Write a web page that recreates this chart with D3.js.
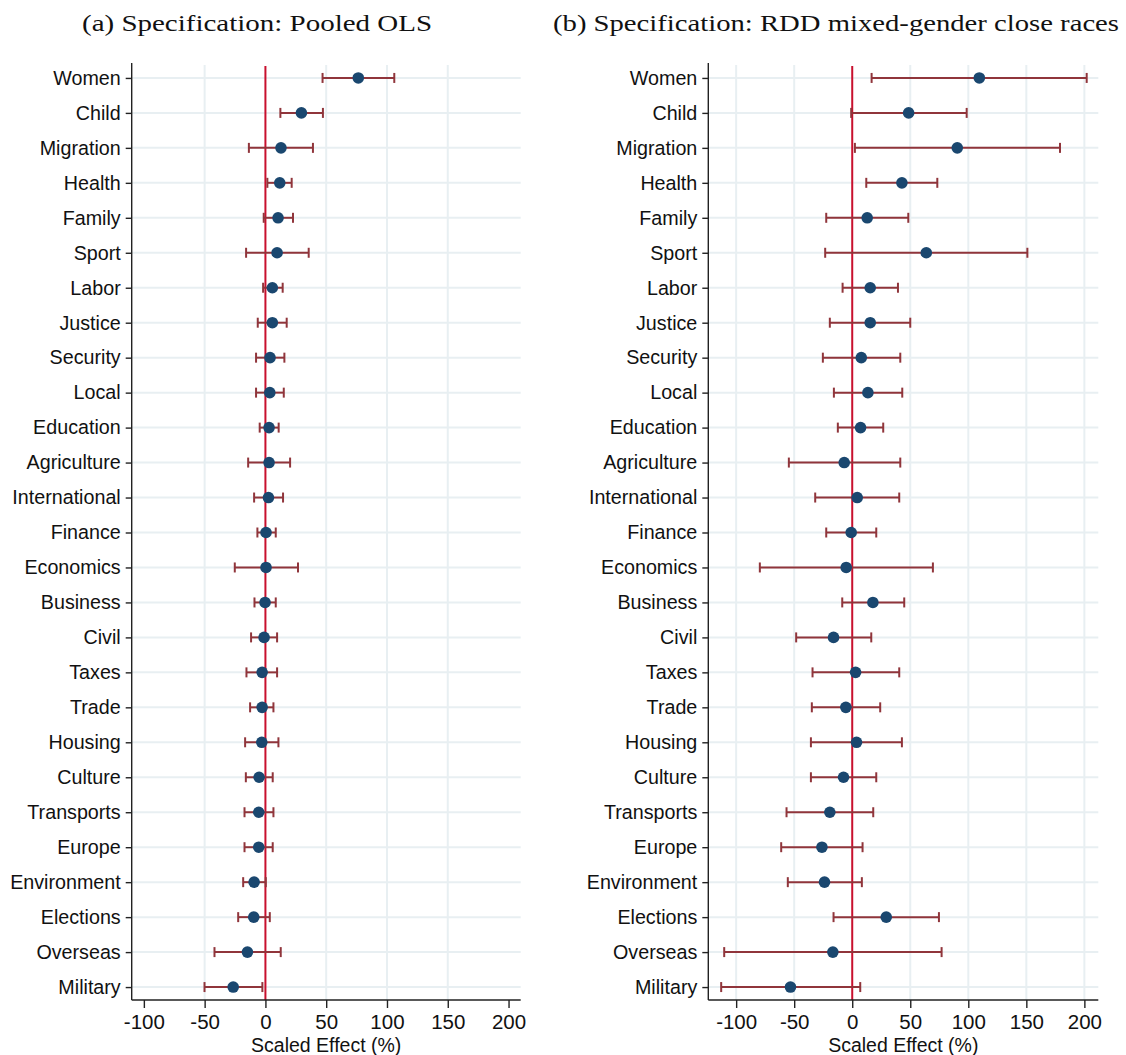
<!DOCTYPE html>
<html>
<head>
<meta charset="utf-8">
<script src="https://cdn.jsdelivr.net/npm/d3@7"></script>
<style>
  html, body { margin: 0; padding: 0; background: #fff; }
  svg { display: block; }
</style>
</head>
<body>
<svg id="chart" width="1126" height="1055"></svg>
<script>
// ---- Data ----
const categories = ["Women","Child","Migration","Health","Family","Sport","Labor","Justice","Security","Local","Education","Agriculture","International","Finance","Economics","Business","Civil","Taxes","Trade","Housing","Culture","Transports","Europe","Environment","Elections","Overseas","Military"];

// Panel (a): Pooled OLS
const olsEstimate = [76.4, 29.6, 12.8, 11.8, 10.4, 9.6, 5.7, 5.7, 3.8, 3.6, 3.0, 3.0, 2.5, 0.5, 0.5, -0.3, -1.1, -2.7, -2.7, -3.0, -5.2, -5.5, -5.5, -9.3, -9.6, -14.8, -26.5];
const olsLower    = [47.0, 12.3, -13.6, 1.6, -1.4, -15.9, -1.9, -6.3, -7.7, -7.7, -4.7, -14.2, -9.3, -6.6, -25.2, -9.0, -11.8, -15.6, -12.6, -16.7, -16.1, -17.2, -17.2, -18.3, -22.4, -41.9, -50.1];
const olsUpper    = [106.0, 47.3, 39.1, 21.6, 22.7, 35.6, 14.2, 17.5, 15.6, 15.1, 10.9, 20.3, 14.5, 8.5, 26.8, 8.5, 9.6, 9.6, 6.6, 10.7, 6.0, 6.6, 6.0, 0.3, 3.6, 12.6, -2.5];

// Panel (b): RDD mixed-gender close races
const rddEstimate = [109.5, 48.6, 90.5, 42.8, 12.9, 63.8, 15.5, 15.5, 7.8, 13.5, 7.2, -6.9, 4.3, -0.9, -5.2, 17.8, -16.1, 2.9, -5.5, 3.7, -7.5, -19.3, -26.1, -23.9, 29.3, -16.7, -53.2];
const rddLower    = [16.7, -0.9, 2.3, 12.1, -22.4, -23.3, -8.3, -19.3, -25.3, -15.8, -12.4, -54.6, -31.9, -22.4, -79.6, -8.6, -48.3, -34.2, -34.8, -35.6, -35.6, -56.6, -61.2, -55.5, -16.1, -110.3, -112.9];
const rddUpper    = [202.0, 98.6, 179.0, 73.3, 48.3, 150.9, 39.4, 50.0, 41.4, 43.1, 26.7, 41.4, 40.5, 20.7, 69.5, 44.8, 16.4, 40.5, 24.1, 42.8, 20.7, 18.1, 8.9, 8.3, 74.7, 77.0, 6.9];

const xTicks = [-100, -50, 0, 50, 100, 150, 200];
const titleA = "(a) Specification: Pooled OLS";
const titleB = "(b) Specification: RDD mixed-gender close races";
const xAxisTitle = "Scaled Effect (%)";

// ---- Styles ----
const C = {
  grid: "#e8eff2",
  zero: "#c8102e",
  ci: "#90353b",
  marker: "#1a476f",
  axis: "#222",
  text: "#111"
};
const sansFont = "'Liberation Sans', Arial, Helvetica, sans-serif";
const serifFont = "'Liberation Serif', 'Times New Roman', serif";

const svg = d3.select("#chart");

const yTop = 65, yBottom = 1000;

function drawPanel(opts) {
  const { x0, x1, domain, est, lo, hi, title, titleX, titleLen, gridTicks } = opts;
  const g = svg.append("g");
  const x = d3.scaleLinear().domain(domain).range([x0, x1]);
  const y = d3.scalePoint().domain(categories).range([yTop, yBottom]).padding(0.37);

  // horizontal gridlines
  g.append("g").selectAll("line").data(categories).join("line")
    .attr("x1", x0).attr("x2", x1)
    .attr("y1", d => y(d)).attr("y2", d => y(d))
    .attr("stroke", C.grid).attr("stroke-width", 2);

  // vertical gridlines
  g.append("g").selectAll("line").data(gridTicks).join("line")
    .attr("x1", d => x(d)).attr("x2", d => x(d))
    .attr("y1", yTop).attr("y2", yBottom)
    .attr("stroke", C.grid).attr("stroke-width", 2);

  // zero line
  g.append("line")
    .attr("x1", x(0)).attr("x2", x(0))
    .attr("y1", yTop + 1).attr("y2", yBottom)
    .attr("stroke", C.zero).attr("stroke-width", 2);

  const rows = categories.map((c, i) => ({ c, e: est[i], l: lo[i], h: hi[i] }));

  // CI bars
  const ci = g.append("g").attr("stroke", C.ci).attr("stroke-width", 2).attr("fill", "none");
  ci.selectAll("line.bar").data(rows).join("line").attr("class", "bar")
    .attr("x1", d => x(d.l)).attr("x2", d => x(d.h))
    .attr("y1", d => y(d.c)).attr("y2", d => y(d.c));
  ci.selectAll("line.capl").data(rows).join("line").attr("class", "capl")
    .attr("x1", d => x(d.l)).attr("x2", d => x(d.l))
    .attr("y1", d => y(d.c) - 5).attr("y2", d => y(d.c) + 5);
  ci.selectAll("line.caph").data(rows).join("line").attr("class", "caph")
    .attr("x1", d => x(d.h)).attr("x2", d => x(d.h))
    .attr("y1", d => y(d.c) - 5).attr("y2", d => y(d.c) + 5);

  // markers
  g.append("g").selectAll("circle").data(rows).join("circle")
    .attr("cx", d => x(d.e)).attr("cy", d => y(d.c)).attr("r", 5.8)
    .attr("fill", C.marker);

  // y axis
  const yAxis = g.append("g").attr("transform", `translate(${x0},0)`)
    .call(d3.axisLeft(y).tickSize(6).tickPadding(5));
  yAxis.select(".domain").attr("d", `M0,${yTop - 2}V${yBottom}`).attr("stroke", C.axis).attr("stroke-width", 1.4);
  yAxis.selectAll(".tick line").attr("stroke", C.axis).attr("stroke-width", 1.4);
  yAxis.selectAll(".tick text").attr("font-family", sansFont).attr("font-size", 19.7).attr("fill", C.text);

  // x axis
  const xAxis = g.append("g").attr("transform", `translate(0,${yBottom})`)
    .call(d3.axisBottom(x).tickValues(xTicks).tickSize(8).tickPadding(6).tickFormat(d3.format("d")));
  xAxis.select(".domain").attr("d", `M${x0},0H${x1}`).attr("stroke", C.axis).attr("stroke-width", 1.4);
  xAxis.selectAll(".tick line").attr("stroke", C.axis).attr("stroke-width", 1.4);
  xAxis.selectAll(".tick text").attr("font-family", sansFont).attr("font-size", 20.5).attr("fill", C.text)
    .text(d => d < 0 ? "-" + Math.abs(d) : String(d));

  // x axis title
  g.append("text")
    .attr("x", (x0 + x1) / 2).attr("y", 1052)
    .attr("text-anchor", "middle")
    .attr("font-family", sansFont).attr("font-size", 19.5).attr("fill", C.text)
    .text(xAxisTitle);

  // panel title
  g.append("text")
    .attr("x", titleX).attr("y", 31)
    .attr("text-anchor", "middle")
    .attr("font-family", serifFont).attr("font-size", 24).attr("fill", C.text)
    .attr("textLength", titleLen).attr("lengthAdjust", "spacingAndGlyphs")
    .text(title);
}

drawPanel({
  x0: 131.7, x1: 520.7, domain: [-110, 210],
  est: olsEstimate, lo: olsLower, hi: olsUpper,
  title: titleA, titleX: 257, titleLen: 350,
  gridTicks: [-50, 50, 100, 150]
});

drawPanel({
  x0: 708.3, x1: 1098.3, domain: [-124, 212],
  est: rddEstimate, lo: rddLower, hi: rddUpper,
  title: titleB, titleX: 836, titleLen: 566,
  gridTicks: [-100, -50, 50, 100, 150, 200]
});
</script>
</body>
</html>
